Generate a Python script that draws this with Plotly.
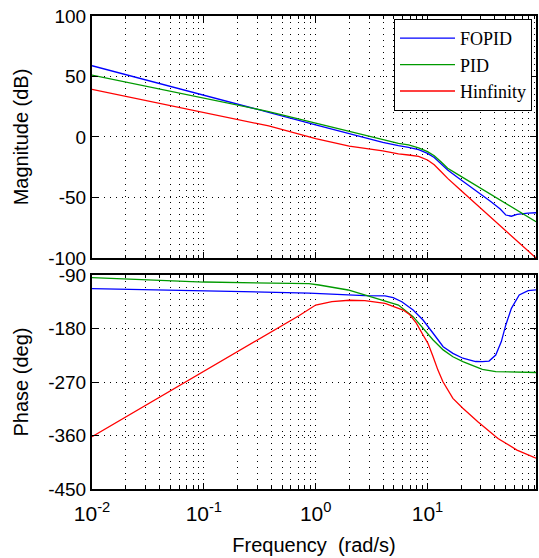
import plotly.graph_objects as go

# ---------------- data ----------------
series_names = ["FOPID", "PID", "Hinfinity"]
series_colors = ["#0000ff", "#009a00", "#ff0000"]

# magnitude: log10 of frequency (rad/s) and dB values
mag_log10_w = [-2, -1.5, -1, -0.42, 0, 0.3, 0.6, 0.74, 0.83, 0.92, 1.0, 1.06, 1.12,
               1.18, 1.27, 1.33, 1.45, 1.565, 1.65, 1.70, 1.75, 1.8, 1.9, 1.97]
mag_fopid = [58.9, 46.9, 34.7, 20.4, 10, 2.5, -4.5, -7.2, -8.5, -10.5, -13.5, -17, -22,
             -27.3, -33.4, -37.4, -45.5, -53.3, -59.5, -64.5, -65.5, -64, -63, -62.6]
mag_pid = [51.2, 41.7, 32.2, 21, 11.5, 4.5, -2, -5.2, -6.6, -9, -12.1, -15.5, -20.5,
           -25.9, -30.9, -34.3, -41, -47.5, -52.2, -55, -57.8, -60.6, -66.2, -70]
mag_hinf = [39.4, 29.8, 20.3, 9.1, -1.4, -7.5, -11.5, -14, -14.9, -16, -19, -23, -28.5,
            -34.2, -41.7, -46.7, -56.8, -66.3, -73.4, -77.6, -81.7, -85.9, -94.2, -100]

# phase: log10 of frequency (rad/s) and degrees, per series
ph_fopid_log10_w = [-2, -1.7, -1, -0.06, 0.44, 0.62, 0.693, 0.77, 0.871, 0.96, 1.05, 1.14,
                    1.227, 1.316, 1.43, 1.49, 1.55, 1.61, 1.66, 1.70, 1.75, 1.82, 1.9, 1.97]
ph_fopid = [-113, -114, -117.4, -120.3, -124.7, -125, -128, -135, -149, -165.7, -188, -210.6,
            -221.8, -230, -235.5, -235.8, -234.7, -224.6, -202, -174, -146, -123.6, -116.4, -115]

ph_pid_log10_w = [-2, -1, -0.06, 0.03, 0.29, 0.53, 0.693, 0.74, 0.871, 0.96, 1.05, 1.14,
                  1.227, 1.316, 1.43, 1.49, 1.61, 1.8, 1.97]
ph_pid = [-94.5, -101.8, -104.6, -106.8, -115.2, -128, -137.6, -140.5, -160, -179.7, -199.4,
          -216, -227.5, -235.8, -244, -248.6, -252.6, -254, -254]

ph_hinf_log10_w = [-2, -1, -0.3, -0.15, 0, 0.145, 0.3, 0.44, 0.62, 0.693, 0.782, 0.842, 0.90,
                   0.96, 1.004, 1.05, 1.093, 1.138, 1.227, 1.316, 1.45, 1.63, 1.8, 1.97]
ph_hinf = [-362, -252, -175, -158.5, -140.5, -134.9, -132.5, -133, -137.7, -143, -149, -157,
           -171, -191, -205, -227.5, -250, -269.5, -297.5, -314, -337, -365, -384.5, -398]

# axis ticks
x_major_ticks = [0.01, 0.1, 1, 10]
x_major_labels = ["10<sup>-2</sup>", "10<sup>-1</sup>", "10<sup>0</sup>", "10<sup>1</sup>"]
x_minor_ticks = [m * d for d in [0.01, 0.1, 1, 10] for m in range(2, 10)]
mag_ticks = [-100, -50, 0, 50, 100]
mag_labels = ["-100", "-50", "0", "50", "100"]
ph_ticks = [-450, -360, -270, -180, -90]
ph_labels = ["-450", "-360", "-270", "-180", "-90"]


def to_w(lst):
    return [10 ** v for v in lst]


fig = go.Figure()

mag_data = [mag_fopid, mag_pid, mag_hinf]
for name, col, vals in zip(series_names, series_colors, mag_data):
    fig.add_trace(go.Scatter(x=to_w(mag_log10_w), y=vals, mode="lines", name=name,
                             line=dict(color=col, width=1.3), xaxis="x", yaxis="y"))

ph_data = [(ph_fopid_log10_w, ph_fopid), (ph_pid_log10_w, ph_pid), (ph_hinf_log10_w, ph_hinf)]
for name, col, (lw, vals) in zip(series_names, series_colors, ph_data):
    fig.add_trace(go.Scatter(x=to_w(lw), y=vals, mode="lines", name=name, showlegend=False,
                             line=dict(color=col, width=1.3), xaxis="x2", yaxis="y2"))

font_sans = "Liberation Sans, Arial, sans-serif"
grid_dash = "1px,5px"

common_x = dict(
    type="log", range=[-2, 1.97],
    tickmode="array", tickvals=x_major_ticks,
    showline=True, linecolor="black", linewidth=2, mirror="allticks",
    ticks="inside", ticklen=6, tickwidth=1, tickcolor="black",
    showgrid=True, gridcolor="black", gridwidth=1, griddash=grid_dash,
    minor=dict(tickmode="array", tickvals=x_minor_ticks, ticks="inside", ticklen=3,
               tickcolor="black", showgrid=True, gridcolor="black", gridwidth=1,
               griddash=grid_dash),
    zeroline=False,
)
common_y = dict(
    tickmode="array",
    showline=True, linecolor="black", linewidth=2, mirror="allticks",
    ticks="inside", ticklen=6, tickwidth=1, tickcolor="black",
    showgrid=True, gridcolor="black", gridwidth=1, griddash=grid_dash,
    zeroline=False,
    tickfont=dict(family=font_sans, size=19, color="black"),
    title_font=dict(family=font_sans, size=20, color="black"),
)

fig.update_layout(
    width=539, height=558,
    margin=dict(l=92, r=1, t=16, b=69),
    paper_bgcolor="white", plot_bgcolor="white",
    xaxis=dict(common_x, anchor="y", matches="x2", showticklabels=False),
    xaxis2=dict(common_x, anchor="y2", ticktext=x_major_labels, ticklabelstandoff=5,
                tickfont=dict(family=font_sans, size=21, color="black"),
                title=dict(text="Frequency  (rad/s)", standoff=14,
                           font=dict(family=font_sans, size=20, color="black"))),
    yaxis=dict(common_y, domain=[0.4884, 1], range=[-100, 100], tickvals=mag_ticks,
               ticktext=mag_labels, anchor="x",
               title=dict(text="Magnitude (dB)", standoff=14)),
    yaxis2=dict(common_y, domain=[0, 0.4524], range=[-450, -90], tickvals=ph_ticks,
                ticktext=ph_labels, anchor="x2",
                title=dict(text="Phase (deg)", standoff=14)),
    legend=dict(x=0.991, xanchor="right", y=0.9937, yanchor="top",
                bgcolor="white", bordercolor="black", borderwidth=1,
                itemwidth=55,
                font=dict(family="Liberation Serif, Times New Roman, serif", size=18,
                          color="black"),
                tracegroupgap=0),
    showlegend=True,
)

fig.write_html("out.html")
